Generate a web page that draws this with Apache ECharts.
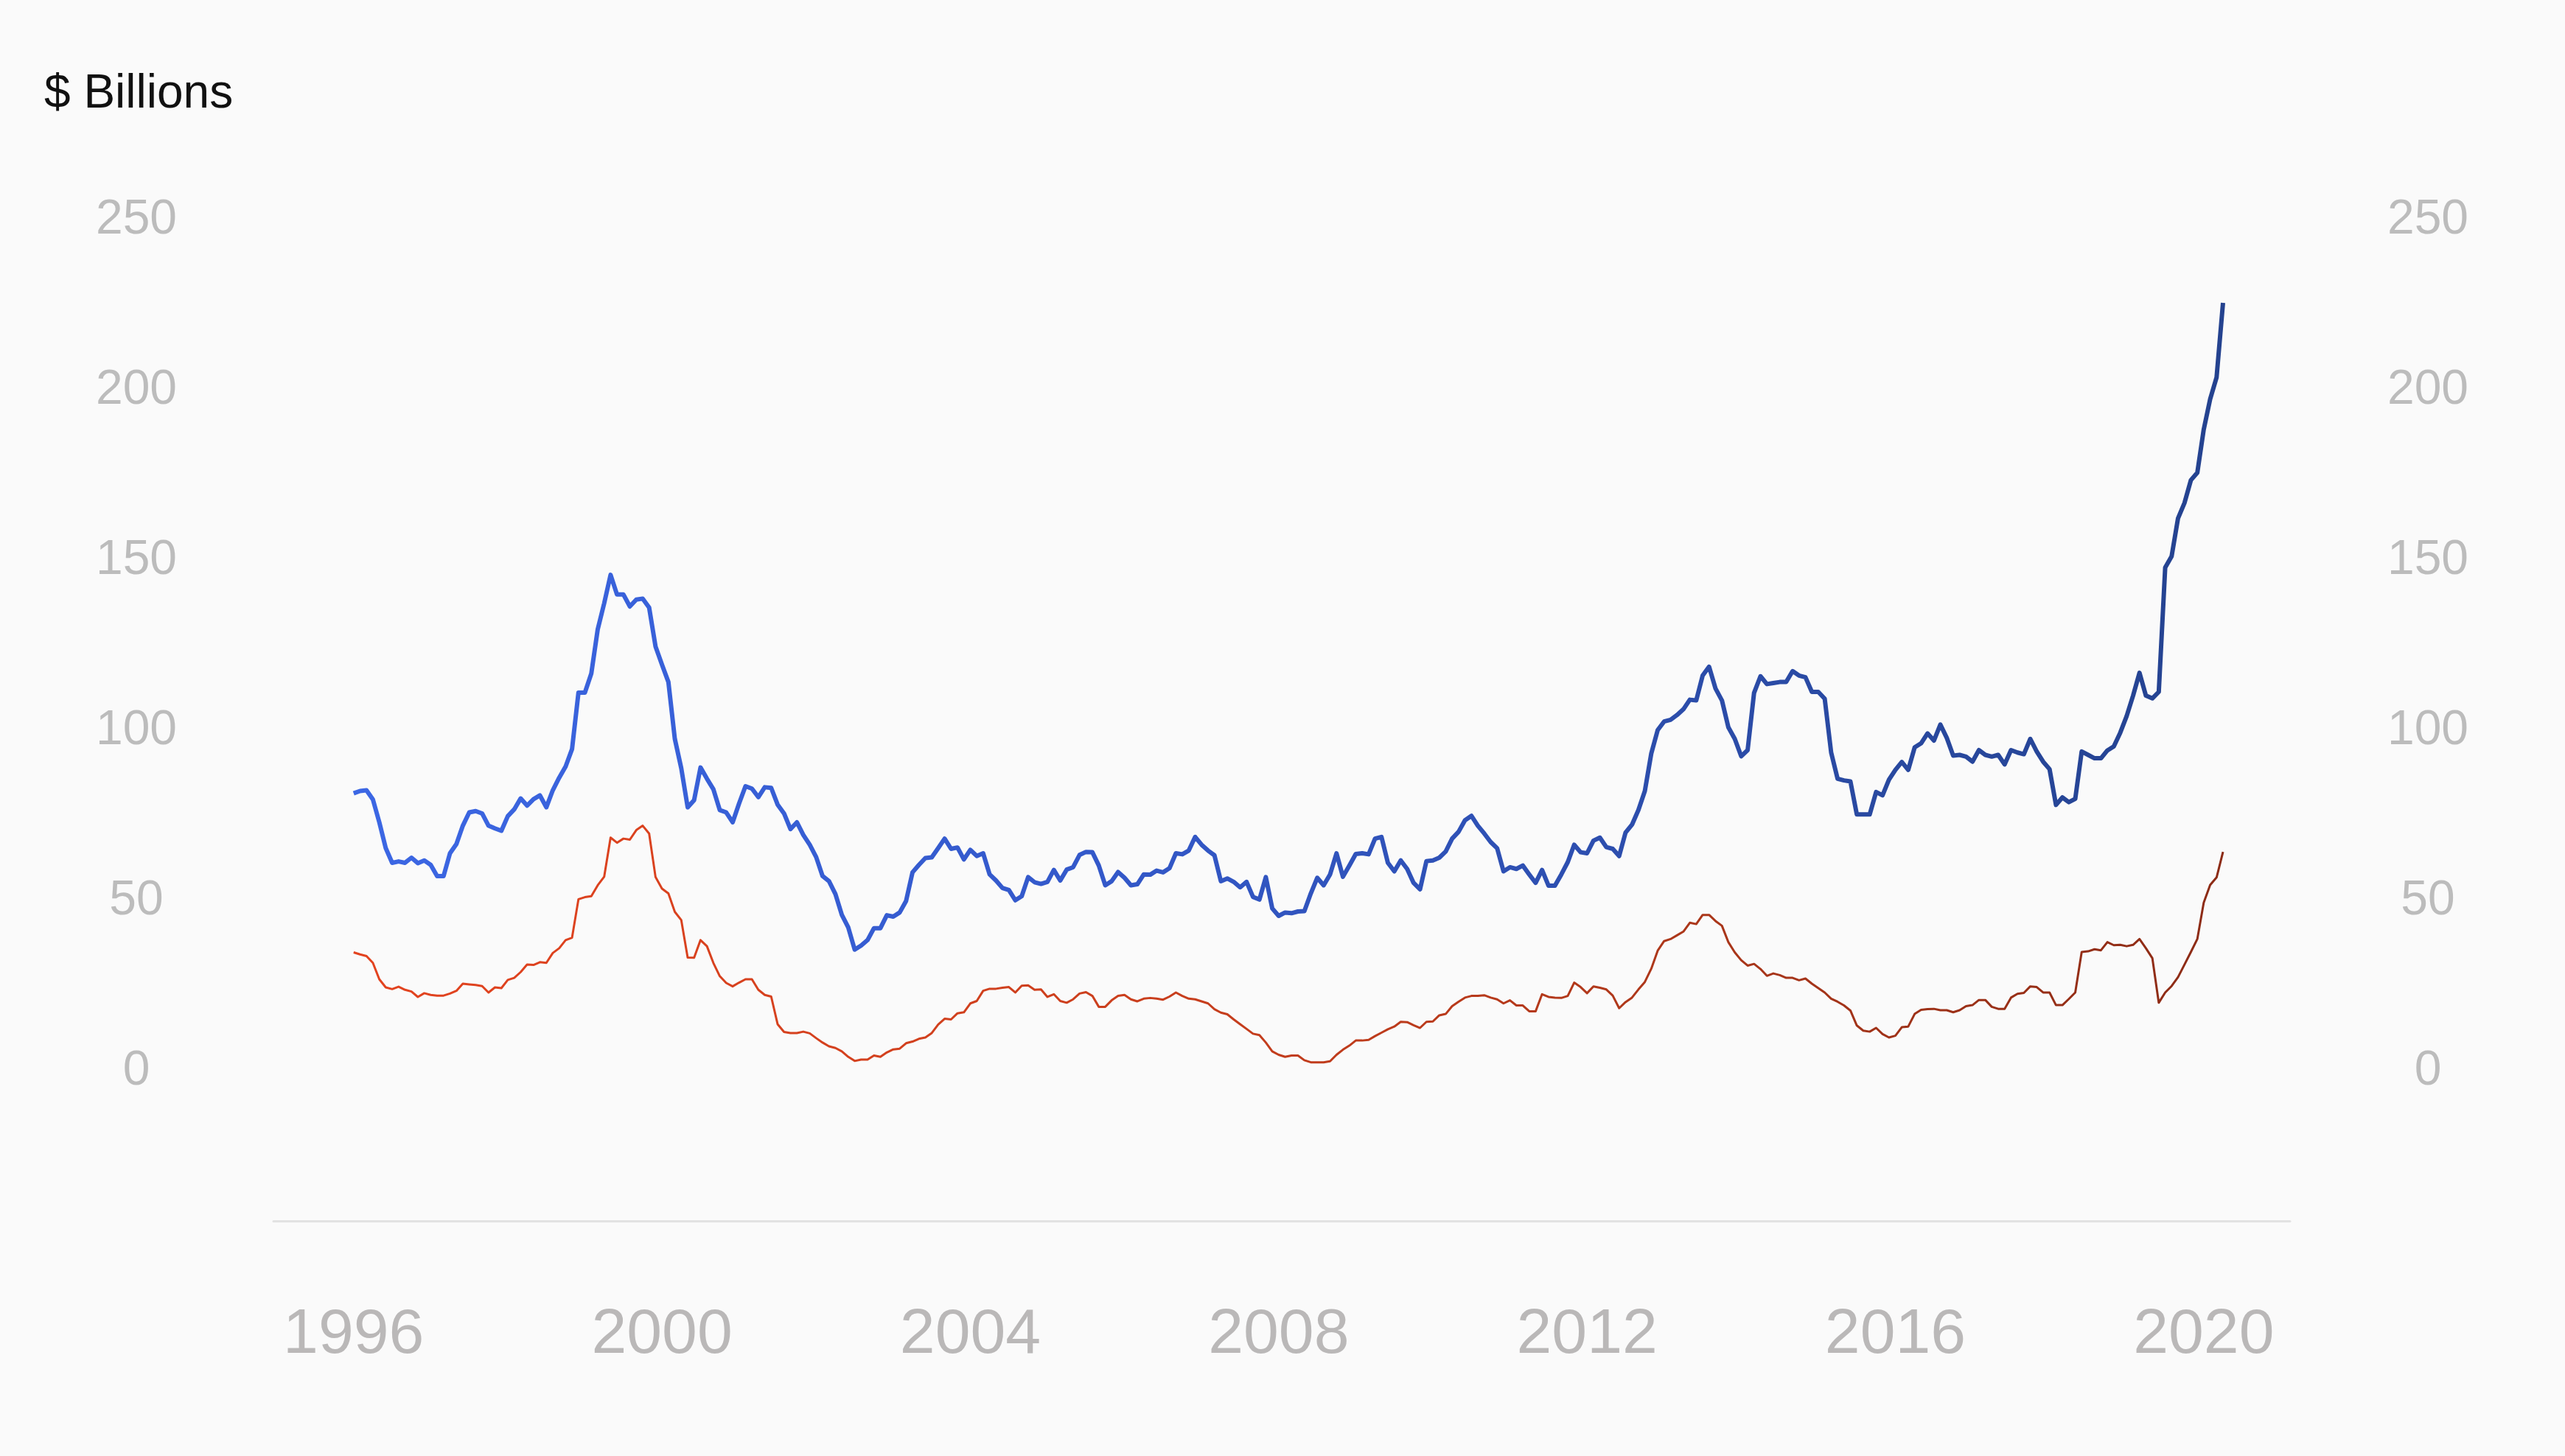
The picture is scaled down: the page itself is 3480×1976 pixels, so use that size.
<!DOCTYPE html>
<html>
<head>
<meta charset="utf-8">
<script src="https://cdn.jsdelivr.net/npm/echarts@6/dist/echarts.min.js"></script>
<style>
html,body{margin:0;padding:0;background:#fafafa;}
#chart{width:3480px;height:1976px;}
</style>
</head>
<body>
<div id="chart"></div>
<script>
// Monthly series, Jan 1996 .. Apr 2020 ($ billions)
const startYear = 1996;
const blueValues = [
  80.6, 81.3, 81.5, 78.8, 72.1, 64.5, 60.2, 60.6, 60.2, 61.7, 60.1, 60.9,
  59.6, 56.3, 56.3, 63.0, 65.7, 71.1, 75.0, 75.4, 74.7, 71.1, 70.3, 69.6,
  73.9, 75.9, 79.1, 77.0, 78.9, 80.0, 76.5, 81.5, 85.2, 88.5, 93.6, 110.2,
  110.2, 115.8, 128.8, 136.4, 144.8, 139.0, 139.0, 135.5, 137.5, 137.8, 135.2, 123.7,
  118.4, 113.3, 96.6, 88.0, 76.5, 78.6, 88.2, 84.9, 81.8, 75.7, 75.0, 72.1,
  77.6, 82.7, 82.0, 79.5, 82.4, 82.2, 77.3, 74.7, 70.1, 72.1, 68.4, 65.5,
  61.9, 56.3, 54.8, 51.0, 44.9, 41.2, 34.7, 35.9, 37.5, 41.0, 41.0, 44.8,
  44.4, 45.6, 49.0, 57.4, 59.6, 61.6, 61.8, 64.5, 67.3, 64.3, 64.7, 61.2,
  64.0, 62.2, 63.0, 56.8, 55.0, 52.8, 52.2, 49.2, 50.4, 56.0, 54.5, 54.0,
  54.6, 58.1, 55.0, 58.2, 58.9, 62.5, 63.4, 63.3, 59.4, 53.6, 54.8, 57.5,
  55.8, 53.6, 53.9, 56.8, 56.7, 57.9, 57.4, 58.6, 63.0, 62.7, 63.8, 67.8,
  65.5, 63.8, 62.4, 54.8, 55.6, 54.6, 53.0, 54.6, 50.2, 49.4, 56.0, 46.8,
  44.6, 45.6, 45.4, 45.9, 46.0, 51.2, 55.8, 53.6, 56.8, 63.0, 56.1, 59.4,
  62.8, 63.0, 62.7, 67.3, 67.8, 60.2, 57.7, 60.9, 58.4, 54.3, 52.4, 60.7,
  60.9, 61.7, 63.5, 67.3, 69.3, 72.7, 74.0, 71.1, 68.8, 66.3, 64.5, 57.7,
  58.9, 58.4, 59.4, 56.8, 54.3, 58.1, 53.5, 53.5, 56.8, 60.4, 65.5, 63.3,
  63.0, 66.7, 67.6, 64.8, 64.3, 62.2, 69.1, 71.4, 75.7, 81.3, 92.3, 99.2,
  101.7, 102.2, 103.6, 105.3, 108.1, 107.9, 115.2, 117.8, 111.4, 107.9, 100.0, 96.6,
  91.5, 93.3, 110.1, 115.0, 112.7, 113.0, 113.3, 113.3, 116.5, 115.2, 114.7, 110.4,
  110.4, 108.4, 92.6, 84.9, 84.4, 84.1, 74.4, 74.4, 74.4, 81.0, 80.0, 84.6,
  87.5, 89.8, 87.5, 94.1, 95.3, 98.2, 96.1, 100.8, 96.9, 91.7, 91.9, 91.4,
  89.9, 93.3, 91.9, 91.4, 91.9, 89.1, 93.3, 92.6, 92.1, 96.6, 92.9, 89.9,
  87.7, 77.2, 79.4, 78.0, 79.0, 92.9, 91.9, 90.9, 90.9, 93.2, 94.4, 98.4,
  103.3, 109.3, 116.0, 109.3, 108.5, 110.4, 146.9, 150.2, 161.4, 165.9, 172.6, 174.8,
  187.5, 196.4, 202.8, 224.7
];
const redValues = [
  33.9, 33.3, 32.8, 30.8, 26.0, 23.6, 23.1, 23.8, 22.9, 22.4, 20.8, 21.9,
  21.4, 21.2, 21.2, 21.8, 22.6, 24.7, 24.5, 24.3, 24.0, 22.1, 23.6, 23.4,
  25.8, 26.4, 28.1, 30.3, 30.2, 31.0, 30.8, 33.7, 35.1, 37.5, 38.2, 49.5,
  50.1, 50.4, 53.6, 56.1, 67.6, 66.1, 67.3, 67.0, 69.8, 71.1, 68.8, 56.0,
  52.6, 51.2, 45.8, 43.4, 32.4, 32.3, 37.5, 35.7, 30.8, 26.9, 24.9, 23.9,
  25.0, 26.0, 26.0, 22.9, 21.4, 20.9, 12.8, 10.5, 10.2, 10.2, 10.6, 10.1,
  8.7, 7.4, 6.3, 5.8, 4.8, 3.2, 2.0, 2.4, 2.4, 3.6, 3.2, 4.5,
  5.4, 5.6, 7.2, 7.7, 8.5, 8.9, 10.2, 12.7, 14.4, 14.2, 16.0, 16.3,
  18.9, 19.6, 22.6, 23.2, 23.2, 23.5, 23.7, 22.1, 24.1, 24.2, 22.9, 23.0,
  20.8, 21.6, 19.6, 19.1, 20.1, 21.8, 22.2, 21.1, 17.9, 17.9, 19.8, 21.1,
  21.4, 20.1, 19.5, 20.3, 20.5, 20.3, 20.0, 20.9, 22.1, 21.1, 20.3, 20.1,
  19.5, 18.9, 17.2, 16.2, 15.7, 14.2, 12.8, 11.4, 10.0, 9.6, 7.4, 4.8,
  3.8, 3.2, 3.6, 3.6, 2.2, 1.6, 1.6, 1.6, 1.9, 3.8, 5.3, 6.5,
  8.0, 8.0, 8.2, 9.3, 10.3, 11.3, 12.1, 13.5, 13.4, 12.5, 11.7, 13.5,
  13.6, 15.4, 15.8, 18.1, 19.4, 20.6, 21.1, 21.1, 21.3, 20.6, 20.1, 18.9,
  19.8, 18.3, 18.3, 16.6, 16.6, 21.6, 20.8, 20.6, 20.5, 21.1, 25.0, 23.7,
  21.9, 23.9, 23.5, 23.0, 21.2, 17.5, 19.3, 20.6, 23.0, 25.2, 29.1, 34.4,
  37.2, 37.8, 38.9, 40.0, 42.6, 42.2, 44.9, 44.9, 43.1, 41.7, 36.9, 33.9,
  31.6, 30.0, 30.5, 29.0, 27.0, 27.7, 27.2, 26.4, 26.4, 25.7, 26.2, 24.7,
  23.4, 22.1, 20.3, 19.4, 18.3, 16.8, 12.4, 10.9, 10.6, 11.7, 9.9, 8.9,
  9.4, 11.9, 12.1, 15.8, 17.0, 17.2, 17.3, 16.9, 16.9, 16.3, 16.9, 18.1,
  18.4, 19.9, 19.9, 17.9, 17.3, 17.3, 20.6, 21.7, 22.0, 23.9, 23.7, 22.1,
  22.1, 18.4, 18.4, 20.2, 22.1, 34.0, 34.2, 34.8, 34.5, 36.9, 36.0, 36.1,
  35.7, 36.1, 37.8, 35.1, 32.2, 19.1, 22.1, 24.0, 26.6, 30.3, 34.0, 37.8,
  48.5, 53.7, 55.9, 63.4
];
const yearTicks = [1996, 2000, 2004, 2008, 2012, 2016, 2020];
const valueTicks = [0, 50, 100, 150, 200, 250];
const unitLabel = '$ Billions';

// x position of each monthly observation as decimal year
const monthX = blueValues.map((_, i) => startYear + i / 12);
const blueData = blueValues.map((v, i) => [monthX[i], v]);
const redData = redValues.map((v, i) => [monthX[i], v]);

const chart = echarts.init(document.getElementById('chart'), null, {renderer: 'canvas'});
const font = 'Liberation Sans, Arial, sans-serif';
const yAxisCommon = {
  type: 'value', min: -45, max: 250,
  axisLine: {show: false}, axisTick: {show: false}, splitLine: {show: false},
  axisLabel: {
    customValues: valueTicks, align: 'center', verticalAlign: 'top', lineHeight: 10,
    color: '#bcbcbc', fontSize: 66, fontFamily: font
  }
};
chart.setOption({
  backgroundColor: '#fafafa',
  animation: false,
  title: {
    text: unitLabel, left: 55, top: 91,
    textStyle: {fontSize: 64, fontWeight: 'normal', color: '#111111', fontFamily: font}
  },
  grid: {left: 371, right: 373, top: 294, bottom: 319, containLabel: false},
  xAxis: {
    type: 'value', min: 1994.96, max: 2021.12,
    axisLine: {show: true, onZero: false, lineStyle: {color: '#e2e2e2', width: 3}},
    axisTick: {show: false}, splitLine: {show: false},
    axisLabel: {
      customValues: yearTicks, margin: 112,
      color: '#bab8b8', fontSize: 86, fontFamily: font,
      formatter: v => String(Math.round(v))
    }
  },
  yAxis: [
    Object.assign({}, yAxisCommon, {position: 'left', axisLabel: Object.assign({}, yAxisCommon.axisLabel, {margin: 186})}),
    Object.assign({}, yAxisCommon, {position: 'right', axisLabel: Object.assign({}, yAxisCommon.axisLabel, {margin: 187})})
  ],
  series: [
    {
      type: 'line', data: redData, yAxisIndex: 0, showSymbol: false, symbol: 'none',
      lineStyle: {
        width: 3, join: 'round',
        color: {type: 'linear', x: 0, y: 0, x2: 1, y2: 0, colorStops: [
          {offset: 0, color: '#e3431f'}, {offset: 0.4, color: '#cc3f1d'},
          {offset: 0.7, color: '#ad371a'}, {offset: 1, color: '#8c2b15'}
        ]}
      }
    },
    {
      type: 'line', data: blueData, yAxisIndex: 0, showSymbol: false, symbol: 'none',
      lineStyle: {
        width: 6, join: 'round',
        color: {type: 'linear', x: 0, y: 0, x2: 1, y2: 0, colorStops: [
          {offset: 0, color: '#3c67e4'}, {offset: 0.4, color: '#3358c9'},
          {offset: 0.7, color: '#2c4dab'}, {offset: 1, color: '#24428f'}
        ]}
      }
    }
  ]
});
</script>
</body>
</html>
